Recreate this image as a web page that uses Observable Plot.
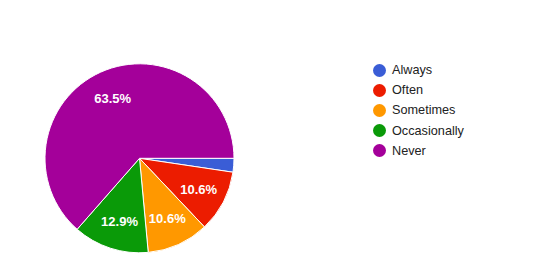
<!DOCTYPE html>
<html>
<head>
<meta charset="utf-8">
<script src="https://cdn.jsdelivr.net/npm/d3@7"></script>
<script src="https://cdn.jsdelivr.net/npm/@observablehq/plot@0.6"></script>
<style>
  html, body { margin: 0; padding: 0; background: #fff; }
  #wrap { position: relative; width: 547px; height: 270px; font-family: "Liberation Sans", Arial, sans-serif; }
  #legend { position: absolute; left: 372px; top: 61px; }
  .item { position: relative; height: 20.2px; line-height: 18px; font-size: 12.7px; color: #222; padding-left: 20px; white-space: nowrap; }
  .item .sw { position: absolute; left: 1px; top: 2.5px; width: 13px; height: 13px; border-radius: 50%; }
</style>
</head>
<body>
<div id="wrap"></div>
<script>
const categories = ["Always", "Often", "Sometimes", "Occasionally", "Never"];
const counts = [2, 9, 9, 11, 54];
const colors = ["#3a5dd6", "#ec1c00", "#ff9800", "#0a9a08", "#a4009a"];

const total = d3.sum(counts);
const data = categories.map((c, i) => ({category: c, value: counts[i]}));
const color = d3.scaleOrdinal(categories, colors);

const pie = d3.pie().sort(null).value(d => d.value)
  .startAngle(Math.PI / 2).endAngle(Math.PI / 2 + 2 * Math.PI);
const arcs = pie(data);

// label positions in unit (data) space, ~0.7 of the radius
const labelArc = d3.arc().innerRadius(0.7).outerRadius(0.7);
const labels = arcs
  .filter(a => a.data.value / total >= 0.05)
  .map(a => {
    const [lx, ly] = labelArc.centroid(a);
    return {x: lx, y: ly, text: (a.data.value / total * 100).toFixed(1) + "%"};
  });

const W = 547, H = 270;
const chart = Plot.plot({
  width: W,
  height: H,
  marginLeft: 45,
  marginRight: 313,
  marginTop: 63.8,
  marginBottom: 17.2,
  x: {domain: [-1, 1], axis: null},
  y: {domain: [-1, 1], reverse: true, axis: null},
  style: {fontFamily: "'Liberation Sans', Arial, sans-serif", background: "#fff", overflow: "visible"},
  marks: [
    (index, scales) => {
      const {x, y} = scales;
      const cx = x(0), cy = y(0), r = x(1) - x(0);
      const arcGen = d3.arc().innerRadius(0).outerRadius(r);
      const g = d3.create("svg:g").attr("transform", `translate(${cx},${cy})`);
      g.selectAll("path").data(arcs).join("path")
        .attr("d", arcGen)
        .attr("fill", d => color(d.data.category))
        .attr("stroke", "#fff")
        .attr("stroke-width", 1)
        .attr("stroke-linejoin", "round");
      return g.node();
    },
    Plot.text(labels, {
      x: "x", y: "y", text: "text",
      fill: "#fff", fontSize: 13, fontWeight: "bold",
      textAnchor: "middle", dy: 0
    })
  ]
});

const wrap = document.getElementById("wrap");
wrap.appendChild(chart);

const legend = document.createElement("div");
legend.id = "legend";
categories.forEach((c, i) => {
  const item = document.createElement("div");
  item.className = "item";
  const sw = document.createElement("span");
  sw.className = "sw";
  sw.style.background = colors[i];
  item.appendChild(sw);
  item.appendChild(document.createTextNode(c));
  legend.appendChild(item);
});
wrap.appendChild(legend);
</script>
</body>
</html>
